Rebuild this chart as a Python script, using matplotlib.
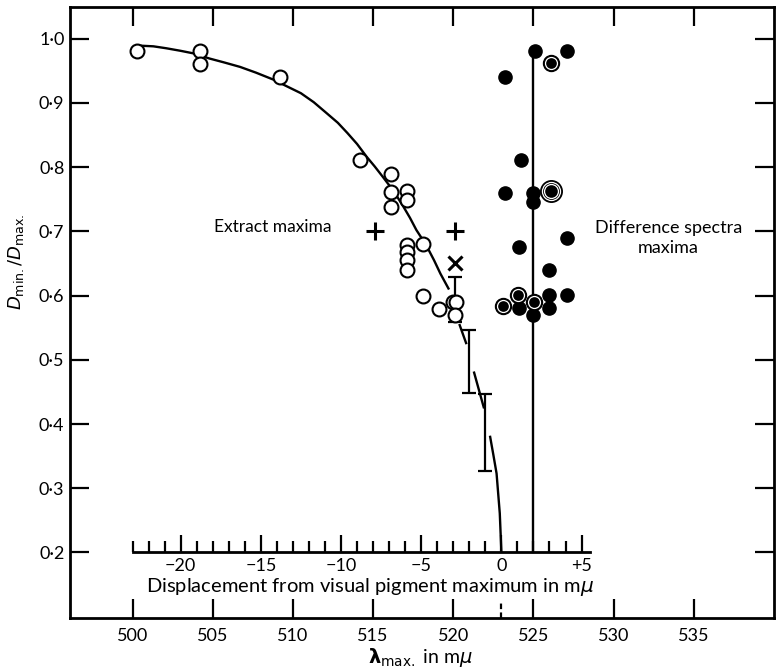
import numpy as np
import matplotlib
matplotlib.use('Agg')
import matplotlib.pyplot as plt
from matplotlib.ticker import MultipleLocator, FixedLocator, FixedFormatter

plt.rcParams['font.family'] = ['Lato', 'DejaVu Sans']
plt.rcParams['mathtext.fontset'] = 'dejavusans'

# fitted curve (lambda max in nm, Dmin/Dmax)
curve_x = [500.5, 501.3, 502.1, 503.0, 503.8, 504.8, 505.7, 506.7, 507.7, 508.8, 509.6,
           510.5, 511.3, 512.1, 512.8, 513.4, 514.0, 514.6, 515.1, 515.6, 516.3, 516.9,
           517.3, 517.7, 518.3, 518.8, 519.2, 519.7]
curve_y = [0.989, 0.988, 0.985, 0.981, 0.977, 0.969, 0.963, 0.956, 0.947, 0.936, 0.926,
           0.915, 0.901, 0.884, 0.869, 0.853, 0.836, 0.816, 0.801, 0.785, 0.762, 0.738,
           0.721, 0.702, 0.679, 0.655, 0.634, 0.611]
# broken continuation of the curve between the error bars
seg1_x = [520.4, 520.8]
seg1_y = [0.554, 0.526]
seg2_x = [521.3, 521.9]
seg2_y = [0.480, 0.426]
seg3_x = [522.3, 522.5, 522.7, 522.9, 523.0]
seg3_y = [0.380, 0.352, 0.323, 0.261, 0.201]

# open circles
open_x = [500.3, 504.2, 504.2, 509.2, 514.2, 516.1, 516.1, 516.1, 517.1, 517.1,
          517.1, 517.1, 517.1, 517.1, 518.1, 518.1, 519.1, 520.0, 520.2, 520.1]
open_y = [0.980, 0.981, 0.961, 0.941, 0.811, 0.790, 0.761, 0.738, 0.762, 0.749,
          0.679, 0.668, 0.656, 0.640, 0.680, 0.600, 0.579, 0.590, 0.590, 0.570]

# filled circles (difference spectra)
filled_x = [525.1, 527.1, 523.2, 524.2, 523.2, 525.0, 525.0, 527.1, 524.1, 526.0,
            527.1, 526.0, 524.1, 525.0, 526.0]
filled_y = [0.980, 0.981, 0.941, 0.811, 0.760, 0.759, 0.746, 0.690, 0.675, 0.640,
            0.601, 0.601, 0.580, 0.570, 0.580]
ring_x = [526.1, 524.05, 523.08, 525.03]
ring_y = [0.962, 0.601, 0.583, 0.590]
big_ring_x = [526.1]
big_ring_y = [0.762]

# extract maxima
plus_x = [515.1, 520.1]
plus_y = [0.700, 0.700]
cross_x = [520.1]
cross_y = [0.650]

# error bars
eb_x = [520.1, 521.0, 522.0]
eb_lo = [0.559, 0.448, 0.327]
eb_hi = [0.629, 0.547, 0.447]

line_x = 525.0
line_lo, line_hi = 0.2, 0.98
pigment_max = 523.0

x_ticks = [500, 505, 510, 515, 520, 525, 530, 535]
y_ticks = [0.2, 0.3, 0.4, 0.5, 0.6, 0.7, 0.8, 0.9, 1.0]
y_labels = ['0·2', '0·3', '0·4', '0·5', '0·6', '0·7', '0·8', '0·9', '1·0']
d_ticks = [-20, -15, -10, -5, 0, 5]
d_labels = ['\u221220', '\u221215', '\u221210', '\u22125', '0', '+5']

fig = plt.figure(figsize=(7.78, 6.69), dpi=100)
ax = fig.add_axes([70/778, 51/669, 704/778, 611.5/669])
ax.set_xlim(496.1, 540)
ax.set_ylim(0.098, 1.05)

for s in ax.spines.values():
    s.set_linewidth(2)

ax.set_xticks(x_ticks)
ax.set_xticklabels([str(v) for v in x_ticks])
ax.set_yticks(y_ticks)
ax.set_yticklabels(y_labels)
ax.tick_params(direction='in', length=14, width=1.6, top=True, right=True,
               labelsize=13)
ax.tick_params(axis='x', pad=7)
ax.tick_params(axis='y', pad=4)

ax.set_xlabel(r'$\mathbf{\lambda}_{\rm max.}$ in m$\mu$', fontsize=14, va='center')
ax.xaxis.set_label_coords(0.498, -0.064)
ax.set_ylabel(r'$D_{\rm min.}/D_{\rm max.}$', fontsize=13)
ax.yaxis.set_label_coords(-0.062, 0.582)

lw = 1.7
ax.plot(curve_x, curve_y, color='black', lw=lw, zorder=2)
for sx, sy in [(seg1_x, seg1_y), (seg2_x, seg2_y), (seg3_x, seg3_y)]:
    ax.plot(sx, sy, color='black', lw=lw, zorder=2)

ax.errorbar(eb_x, [(a + b) / 2 for a, b in zip(eb_lo, eb_hi)],
            yerr=[(b - a) / 2 for a, b in zip(eb_lo, eb_hi)], fmt='none',
            ecolor='black', elinewidth=1.6, capsize=5, capthick=1.6, zorder=3)

ax.plot([line_x, line_x], [line_lo, line_hi], color='black', lw=lw, zorder=2)
ax.axvline(pigment_max, ymin=0, ymax=0.026, color='black', lw=1.6,
           linestyle=(0, (2.5, 1.5)))

ax.plot(open_x, open_y, 'o', ms=10, mfc='white', mec='black', mew=1.5, zorder=4)
ax.plot(filled_x, filled_y, 'o', ms=9.5, mfc='black', mec='black', zorder=4)
ax.plot(ring_x, ring_y, 'o', ms=11.5, mfc='black', mec='black', zorder=4)
ax.plot(ring_x, ring_y, 'o', ms=8.6, mfc='none', mec='white', mew=0.9, zorder=5)
ax.plot(big_ring_x, big_ring_y, 'o', ms=15.5, mfc='black', mec='black', zorder=4)
ax.plot(big_ring_x, big_ring_y, 'o', ms=13, mfc='none', mec='white', mew=0.9, zorder=5)
ax.plot(big_ring_x, big_ring_y, 'o', ms=10, mfc='none', mec='white', mew=0.9, zorder=5)

ax.plot(plus_x, plus_y, '+', ms=13, mew=2.2, color='black', zorder=4)
ax.plot(cross_x, cross_y, 'x', ms=10, mew=2.2, color='black', zorder=4)

ax.text(512.4, 0.707, 'Extract maxima', ha='right', va='center', fontsize=12.5)
ax.text(533.4, 0.689, 'Difference spectra\nmaxima', ha='center', va='center',
        fontsize=13, linespacing=1.3)

# displacement scale drawn inside the plot
dax = ax.inset_axes([500, 0.2, 28.5, 0.05], transform=ax.transData)
dax.patch.set_visible(False)
for side in ['top', 'left', 'right']:
    dax.spines[side].set_visible(False)
dax.spines['bottom'].set_linewidth(2)
dax.set_yticks([])
dax.set_xlim(-23, 5.5)
dax.xaxis.set_major_locator(FixedLocator(d_ticks))
dax.xaxis.set_major_formatter(FixedFormatter(d_labels))
dax.xaxis.set_minor_locator(MultipleLocator(1))
dax.tick_params(axis='x', which='major', direction='in', length=12, width=1.6,
                labelsize=13, pad=4)
dax.tick_params(axis='x', which='minor', direction='in', length=8, width=1.6)
dax.set_xlabel('Displacement from visual pigment maximum in m$\\mu$', fontsize=14.5)
dax.xaxis.set_label_coords(0.521, -0.72)

fig.savefig('out.png', dpi=100)
